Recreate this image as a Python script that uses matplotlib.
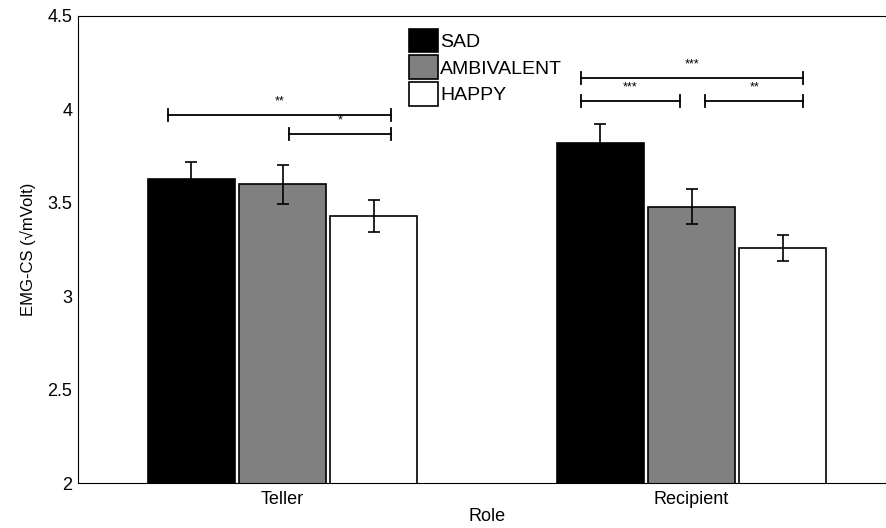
import matplotlib.pyplot as plt
import numpy as np

plt.rcParams['font.family'] = ['Liberation Sans', 'DejaVu Sans']

roles = ['Teller', 'Recipient']
conditions = ['SAD', 'AMBIVALENT', 'HAPPY']
means = {'SAD': [3.63, 3.82], 'AMBIVALENT': [3.60, 3.48], 'HAPPY': [3.43, 3.26]}
errors = {'SAD': [0.09, 0.10], 'AMBIVALENT': [0.105, 0.095], 'HAPPY': [0.085, 0.07]}
colors = {'SAD': 'black', 'AMBIVALENT': '#808080', 'HAPPY': 'white'}

# significance brackets: (x1, x2, y, label)
sig = [(0.72, 1.266, 3.97, '**'), (1.017, 1.266, 3.868, '*'),
       (1.729, 2.273, 4.168, '***'), (1.729, 1.971, 4.045, '***'),
       (2.034, 2.273, 4.045, '**')]

fig = plt.figure(figsize=(8.86, 5.28), dpi=100)
ax = fig.add_axes([78 / 886, 1 - 483 / 528, (896 - 78) / 886, (483 - 16) / 528])

x = np.arange(1, len(roles) + 1)
off = 0.223
w = 0.212
for i, c in enumerate(conditions):
    ax.bar(x + (i - 1) * off, means[c], w, color=colors[c], edgecolor='black',
           linewidth=1.2, label=c, zorder=2)
    ax.errorbar(x + (i - 1) * off, means[c], yerr=errors[c], fmt='none',
                ecolor='black', elinewidth=1.2, capsize=4, capthick=1.2, zorder=3)

h = 0.03
for x1, x2, y, lab in sig:
    ax.plot([x1, x2], [y, y], color='black', lw=1.3)
    ax.plot([x1, x1], [y - h, y + h], color='black', lw=1.3)
    ax.plot([x2, x2], [y - h, y + h], color='black', lw=1.3)
    ax.text((x1 + x2) / 2, y + 0.04, lab, ha='center', va='bottom', fontsize=9)

ax.set_xlim(0.5, 2.5)
ax.set_ylim(2, 4.5)
ax.set_yticks([2, 2.5, 3, 3.5, 4, 4.5])
ax.set_yticklabels(['2', '2.5', '3', '3.5', '4', '4.5'])
ax.set_xticks(x)
ax.set_xticklabels(roles)
ax.tick_params(direction='in', labelsize=13, length=0)
ax.tick_params(axis='x', pad=6)
ax.tick_params(axis='y', pad=4)
ax.set_xlabel('Role', fontsize=13, labelpad=0)
ax.set_ylabel('EMG-CS (√mVolt)', fontsize=12, labelpad=8)

ax.legend(loc='upper left', bbox_to_anchor=(0.386, 1.006), frameon=False, fontsize=14,
          handlelength=1.5, handleheight=1.5, handletextpad=0.1, labelspacing=0.15,
          borderaxespad=0.4)

fig.savefig('out.png', dpi=100)
